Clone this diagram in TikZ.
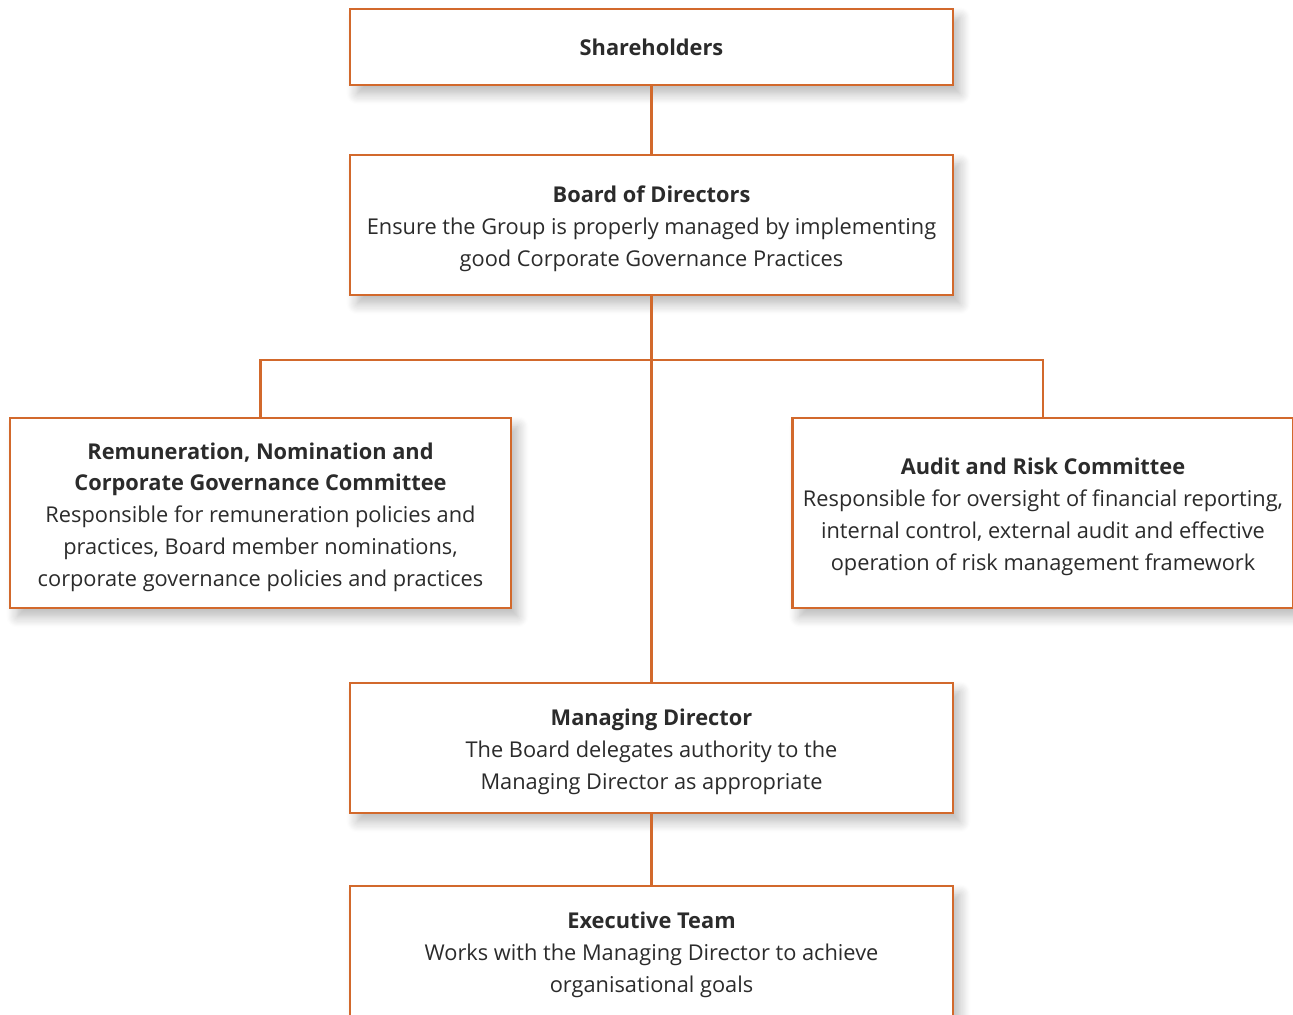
\documentclass[tikz,border=0pt]{standalone}
\usepackage{fontspec}
\setmainfont{Open Sans}
\usetikzlibrary{positioning,shadows.blur}
\definecolor{boxline}{HTML}{D2692C}
\definecolor{boxtext}{HTML}{2B2B2B}
\newcommand{\boxstrut}{\rule{0pt}{14pt}}

\begin{document}
\begin{tikzpicture}[
    x=0.02cm, y=-0.02cm,
    orgbox/.style = {draw=boxline, line width=1.6pt, fill=white,
                     align=center, text=boxtext, inner sep=0pt,
                     font=\fontsize{12.4}{18.1}\selectfont,
                     blur shadow={shadow xshift=4pt, shadow yshift=-5pt,
                                  shadow blur radius=6pt,
                                  shadow blur steps=10, shadow opacity=28}},
    widebox/.style = {orgbox, minimum width=12.06cm},
    sidebox/.style = {orgbox, minimum width=10.02cm, minimum height=3.8cm},
    link/.style    = {draw=boxline, line width=1.6pt},
]
\useasboundingbox (0,0) rectangle (1293,1014);
\clip (0,0) rectangle (1293,1014);

%% Boxes
\node[widebox, minimum height=1.52cm] (share) at (651.5,47)
    {\textbf{Shareholders}};
\node[widebox, minimum height=2.8cm] (board) at (651.5,225)
    {\boxstrut\textbf{Board of Directors}\\
     Ensure the Group is properly managed by implementing\\
     good Corporate Governance Practices};
\node[sidebox] (remun) at (260.5,513)
    {\boxstrut\textbf{Remuneration, Nomination and}\\
     \textbf{Corporate Governance Committee}\\
     Responsible for remuneration policies and\\
     practices, Board member nominations,\\
     corporate governance policies and practices};
\node[sidebox] (audit) at (1043,513)
    {\boxstrut\textbf{Audit and Risk Committee}\\
     Responsible for oversight of financial reporting,\\
     internal control, external audit and effective\\
     operation of risk management framework};
\node[widebox, minimum height=2.6cm] (md) at (651.5,748)
    {\boxstrut\textbf{Managing Director}\\
     The Board delegates authority to the\\
     Managing Director as appropriate};
\node[widebox, minimum height=2.6cm] (exec) at (651.5,951)
    {\boxstrut\textbf{Executive Team}\\
     Works with the Managing Director to achieve\\
     organisational goals};

%% Connectors
\coordinate (hub) at (651.5,360);
\draw[link] (share) -- (board);
\draw[link] (board.south) -- (md.north);
\draw[link] (remun.north) |- (hub) -| (audit.north);
\draw[link] (md) -- (exec);

\end{tikzpicture}
\end{document}
